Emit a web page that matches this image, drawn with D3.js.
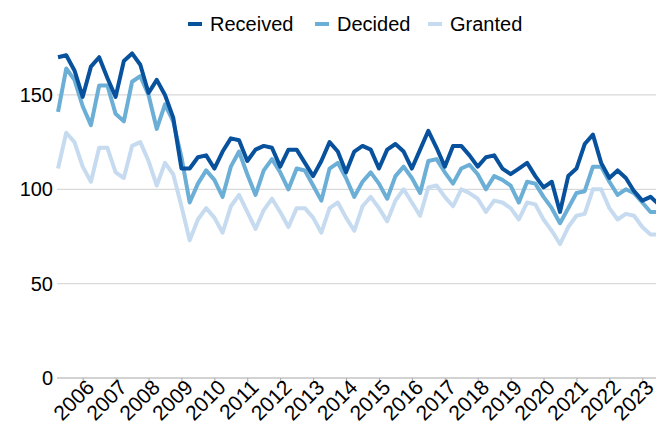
<!DOCTYPE html>
<html>
<head>
<meta charset="utf-8">
<script src="https://cdn.jsdelivr.net/npm/d3@7"></script>
<style>
  body { margin: 0; background: #fff; }
  text { font-family: "Liberation Sans", Arial, sans-serif; fill: #000; }
</style>
</head>
<body>
<div id="vis"></div>
<script>
//Quarterly series, first point is 2005 Q2
var startYear = 2005, startQuarter = 2;

var received = [170, 171, 163, 149, 165, 170, 159, 149, 168, 172, 166, 151, 158, 150, 138, 111,
                111, 117, 118, 111, 120, 127, 126, 115, 121, 123, 122, 112, 121, 121, 114, 107,
                115, 125, 120, 109, 120, 123, 121, 111, 121, 124, 120, 111, 121, 131, 122, 112,
                123, 123, 118, 112, 117, 118, 111, 108, 111, 114, 107, 101, 104, 88, 107, 111,
                124, 129, 114, 106, 110, 106, 99, 94, 96, 92];

var decided = [141, 164, 158, 144, 134, 155, 155, 140, 136, 157, 160, 150, 132, 145, 136, 117,
               93, 103, 110, 105, 96, 112, 120, 108, 97, 110, 116, 109, 100, 111, 110, 102,
               94, 111, 114, 106, 96, 104, 109, 103, 95, 107, 112, 106, 98, 115, 116, 109,
               103, 111, 113, 108, 100, 107, 105, 102, 93, 104, 103, 96, 90, 82, 90, 98,
               99, 112, 112, 104, 97, 100, 98, 93, 88, 88];

var granted = [111, 130, 125, 112, 104, 122, 122, 109, 106, 123, 125, 115, 102, 114, 108, 91,
               73, 84, 90, 85, 77, 91, 97, 88, 79, 89, 95, 88, 80, 90, 90, 85,
               77, 90, 93, 85, 78, 91, 96, 90, 83, 94, 100, 93, 86, 101, 102, 96,
               91, 100, 98, 95, 88, 94, 93, 90, 84, 93, 92, 84, 78, 71, 80, 86,
               87, 100, 100, 90, 84, 87, 86, 80, 76, 76];

var seriesNames = ["Received", "Decided", "Granted"];
var seriesColors = ["#08519c", "#6baed6", "#c6dbef"];

var yearTicks = [2006, 2007, 2008, 2009, 2010, 2011, 2012, 2013, 2014, 2015,
                 2016, 2017, 2018, 2019, 2020, 2021, 2022, 2023];
var valueTicks = [0, 50, 100, 150];

//Quarter positions as fractional years
var quarters = received.map(function(d, i) {
  var q = startQuarter - 1 + i;
  return startYear + Math.floor(q / 4) + (q % 4) / 4;
});

var width = 656, height = 429;

var svgCanvas = d3.select("#vis")
                  .append("svg")
                  .attr("width", width)
                  .attr("height", height);

var xScale = d3.scaleLinear().domain([2006, 2023]).range([82.7, 642.3]);
var yScale = d3.scaleLinear().domain([0, 200]).range([378, 0.6]);

//Gridlines
svgCanvas.selectAll(".grid")
         .data(valueTicks.filter(function(d) { return d > 0; }))
         .enter().append("line")
         .attr("x1", 57).attr("x2", width)
         .attr("y1", function(d) { return yScale(d); })
         .attr("y2", function(d) { return yScale(d); })
         .attr("stroke", "#d9d9d9")
         .attr("stroke-width", 1.3);

//Y axis labels
svgCanvas.selectAll(".ylab")
         .data(valueTicks)
         .enter().append("text")
         .attr("x", 53)
         .attr("y", function(d) { return yScale(d); })
         .attr("dy", "0.35em")
         .attr("text-anchor", "end")
         .attr("font-size", 20)
         .text(function(d) { return d; });

//X axis
var xAxis = d3.axisBottom(xScale)
              .tickValues(yearTicks)
              .tickSize(4)
              .tickFormat("");

var xAxisG = svgCanvas.append("g")
                      .attr("transform", "translate(0," + yScale(0) + ")")
                      .call(xAxis);
xAxisG.select(".domain").attr("stroke", "#a6a6a6").attr("d", "M57,0H" + width);
xAxisG.selectAll(".tick line").attr("stroke", "#a6a6a6");

svgCanvas.selectAll(".xlab")
         .data(yearTicks)
         .enter().append("text")
         .attr("text-anchor", "end")
         .attr("font-size", 21)
         .attr("transform", function(d) {
           return "translate(" + (xScale(d) + 2) + "," + 378 + ") rotate(-45)";
         })
         .attr("dy", "0.72em")
         .text(function(d) { return d; });

//Lines
var lineGen = d3.line()
                .x(function(d, i) { return xScale(quarters[i]); })
                .y(function(d) { return yScale(d); });

var allSeries = [granted, decided, received];
var allColors = [seriesColors[2], seriesColors[1], seriesColors[0]];

svgCanvas.selectAll(".series")
         .data(allSeries)
         .enter().append("path")
         .attr("d", lineGen)
         .attr("fill", "none")
         .attr("stroke", function(d, i) { return allColors[i]; })
         .attr("stroke-width", 4)
         .attr("stroke-linejoin", "round");

//Legend
var legendX = [188, 315, 428];
var legendG = svgCanvas.selectAll(".legend")
                       .data(seriesNames)
                       .enter().append("g")
                       .attr("transform", function(d, i) { return "translate(" + legendX[i] + ",24)"; });

legendG.append("line")
       .attr("x1", 0).attr("x2", 14)
       .attr("stroke", function(d, i) { return seriesColors[i]; })
       .attr("stroke-width", 4);

legendG.append("text")
       .attr("x", 22)
       .attr("dy", "0.35em")
       .attr("font-size", 20)
       .text(function(d) { return d; });
</script>
</body>
</html>
